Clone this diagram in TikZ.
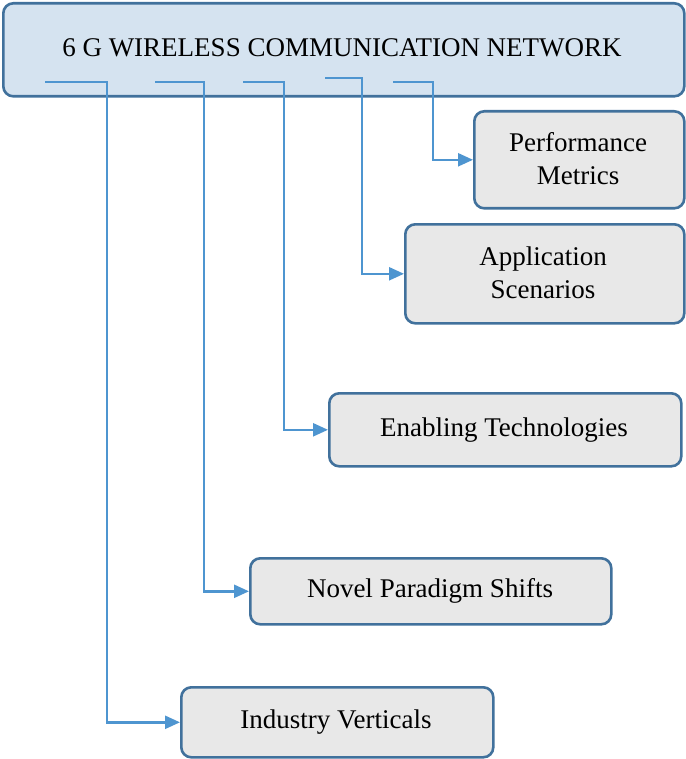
\documentclass[tikz,border=0pt]{standalone}
\usepackage{fontspec}
\setmainfont{Liberation Serif}
\usetikzlibrary{arrows.meta}
\definecolor{bord}{HTML}{41719C}
\definecolor{conn}{HTML}{4E95D0}
\definecolor{topf}{HTML}{D5E3F0}
\definecolor{boxf}{HTML}{E8E8E8}
\tikzset{lbl/.style={font=\fontsize{27}{33}\selectfont,align=center}}
\begin{document}
\begin{tikzpicture}[x=1pt,y=-1pt,
  box/.style={draw=bord,line width=2.6pt,rounded corners=10pt,fill=boxf,inner sep=0pt},
  con/.style={draw=conn,line width=2.4pt,-{Triangle[length=15pt,width=13pt]}}]
\useasboundingbox (0,0) rectangle (685,759);
\node[box,fill=topf,minimum width=681pt,minimum height=93pt,anchor=north west] (top) at (2,2) {};
\node[lbl] (tt) at (342,48) {6 G WIRELESS COMMUNICATION NETWORK};
\node[box,minimum width=210pt,minimum height=97pt,anchor=north west] (pm) at (473,110) {};
\node[lbl] (tpm) at (578,159) {Performance\\Metrics};
\node[box,minimum width=279pt,minimum height=99pt,anchor=north west] (as) at (404,223) {};
\node[lbl] (tas) at (543,273) {Application\\Scenarios};
\node[box,minimum width=352pt,minimum height=73pt,anchor=north west] (et) at (328,392) {};
\node[lbl] (tet) at (504,430) {Enabling Technologies};
\node[box,minimum width=361pt,minimum height=66pt,anchor=north west] (np) at (249,557) {};
\node[lbl] (tnp) at (430,591) {Novel Paradigm Shifts};
\node[box,minimum width=312pt,minimum height=70pt,anchor=north west] (iv) at (180,686) {};
\node[lbl] (tiv) at (336,722) {Industry Verticals};
\coordinate (s1) at (45,82);
\coordinate (s2) at (155,82);
\coordinate (s3) at (243,82);
\coordinate (s4) at (325,78);
\coordinate (s5) at (393,82);
\draw[con] (s1) -- (107,82) |- (iv.west);
\draw[con] (s2) -- (204,82) |- (np.west);
\draw[con] (s3) -- (284,82) |- (et.west);
\draw[con] (s4) -- (362,78) |- (as.west);
\draw[con] (s5) -- (433,82) |- (pm.west);
\end{tikzpicture}
\end{document}
